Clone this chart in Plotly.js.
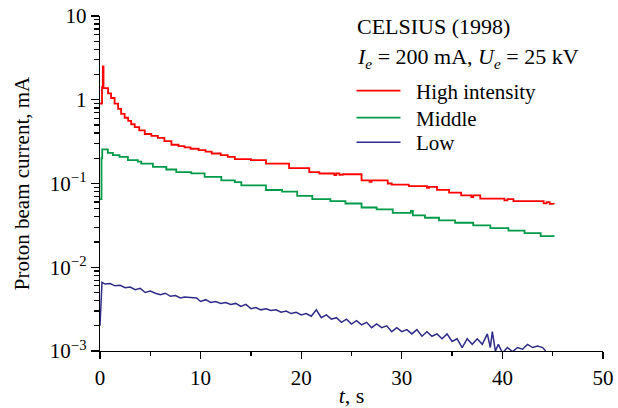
<!DOCTYPE html>
<html>
<head>
<meta charset="utf-8">
<script src="https://cdn.plot.ly/plotly-3.0.1.min.js"></script>
<style>html,body{margin:0;padding:0;background:#fff;}#chart{width:618px;height:408px;}</style>
</head>
<body>
<div id="chart"></div>
<script>
// ---- data ----
var seriesNames = ["High intensity", "Middle", "Low"];

var highT = [0, 0.2, 0.28, 0.35, 0.8, 1.1, 1.45, 1.8, 2.1, 2.45, 2.8, 3.1, 3.45, 3.9, 4.45, 5.1, 5.75, 6.4, 7.1, 7.8, 8.4, 9.0, 9.8, 10.5, 11.1, 12.0, 12.7, 13.4, 15.0, 16.5, 18.8, 20.8, 21.8, 23.3, 23.5, 23.8, 24.1, 26.0, 26.8, 27.0, 28.6, 29.0, 30.7, 32.5, 32.7, 33.5, 34.7, 35.9, 36.9, 37.1, 37.8, 40.2, 40.5, 41.1, 44.1, 44.4, 44.7, 45.1];
var highV = [0.9, 1.4, 2.5, 1.38, 1.19, 1.05, 0.9, 0.78, 0.68, 0.61, 0.56, 0.51, 0.47, 0.43, 0.39, 0.37, 0.35, 0.32, 0.29, 0.28, 0.27, 0.26, 0.25, 0.24, 0.228, 0.218, 0.208, 0.195, 0.19, 0.173, 0.153, 0.137, 0.1316, 0.126, 0.132, 0.127, 0.129, 0.109, 0.105, 0.109, 0.1, 0.097, 0.093, 0.089, 0.091, 0.084, 0.0776, 0.072, 0.069, 0.072, 0.066, 0.063, 0.065, 0.0615, 0.058, 0.06, 0.057, 0.0567];

var midT = [0, 0.15, 0.22, 0.78, 1.28, 1.94, 2.77, 3.76, 4.1, 5.26, 6.59, 7.58, 9.07, 10.4, 12.06, 13.4, 14.05, 16.5, 18.1, 19.6, 21.1, 22.9, 24.4, 26.0, 27.5, 29.1, 30.9, 31.1, 32.3, 33.7, 35.3, 37.1, 38.8, 40.6, 42.2, 43.8, 45.1];
var midV = [0.065, 0.2, 0.255, 0.232, 0.218, 0.208, 0.19, 0.182, 0.173, 0.158, 0.147, 0.137, 0.132, 0.12, 0.109, 0.104, 0.095, 0.0836, 0.0798, 0.071, 0.065, 0.0615, 0.0577, 0.0517, 0.049, 0.0446, 0.047, 0.0416, 0.039, 0.0362, 0.034, 0.0316, 0.0293, 0.0273, 0.0255, 0.0235, 0.0232];

var lowT = [0, 0.2, 0.5, 1.0, 1.5, 2.0, 2.5, 3.0, 3.5, 4.0, 4.5, 5.0, 5.5, 6.0, 6.5, 7.0, 7.5, 8.0, 8.4, 9.6, 10.0, 10.5, 11.0, 11.5, 12.0, 12.5, 13.0, 13.5, 14.0, 14.5, 15.0, 15.5, 16.0, 16.5, 17.0, 17.5, 18.0, 18.5, 19.0, 19.5, 20.0, 20.5, 21.0, 21.5, 22.0, 22.5, 23.0, 23.5, 24.0, 24.5, 25.0, 25.5, 26.0, 26.5, 27.0, 27.5, 28.0, 28.5, 29.0, 29.5, 30.0, 30.5, 31.0, 31.5, 32.0, 32.5, 33.0, 33.5, 34.0, 34.5, 35.0, 35.5, 36.0, 36.5, 37.0, 37.5, 38.0, 38.5, 38.8, 39.0, 39.3, 39.6, 40.0, 40.5, 41.0, 41.5, 42.0, 42.5, 43.0, 43.5, 44.0, 44.3];
var lowV = [0.002, 0.0066, 0.0063, 0.0064, 0.006, 0.0061, 0.0057, 0.0058, 0.0054, 0.0056, 0.005, 0.0052, 0.0049, 0.0047, 0.0049, 0.0045, 0.0046, 0.0043, 0.0044, 0.0043, 0.0039, 0.0041, 0.0038, 0.0039, 0.0037, 0.0038, 0.0036, 0.0037, 0.0034, 0.0036, 0.0032, 0.0033, 0.0031, 0.0032, 0.00305, 0.0031, 0.0029, 0.003, 0.0028, 0.0029, 0.0027, 0.0028, 0.0026, 0.0031, 0.0025, 0.0027, 0.0024, 0.0025, 0.0022, 0.0024, 0.0021, 0.0023, 0.00205, 0.0022, 0.0019, 0.0021, 0.0019, 0.002, 0.0017, 0.0019, 0.0017, 0.0018, 0.0016, 0.0018, 0.0015, 0.0017, 0.0015, 0.0016, 0.0014, 0.0016, 0.0013, 0.0014, 0.0011, 0.0014, 0.0012, 0.0014, 0.0012, 0.0016, 0.0011, 0.0017, 0.001, 0.0012, 0.00095, 0.0011, 0.00098, 0.0011, 0.00105, 0.0012, 0.0011, 0.00115, 0.0011, 0.001];

var yTickVals = [0.001, 0.01, 0.1, 1, 10];
var yTickText = ["10<sup>\u22123</sup>", "10<sup>\u22122</sup>", "10<sup>\u22121</sup>", "1", "10"];
var yMinorVals = [];
[0.001, 0.01, 0.1, 1].forEach(function (d) { for (var k = 2; k <= 9; k++) yMinorVals.push(d * k); });

var FONT = "Liberation Serif, Times New Roman, serif";
var PAD = "\u00a0\u00a0";

var traces = [
  {x: highT, y: highV, name: PAD + seriesNames[0], type: "scatter", mode: "lines", legend: "legend",
   line: {color: "#ff0000", width: 1.8, shape: "hv"}},
  {x: midT, y: midV, name: PAD + seriesNames[1], type: "scatter", mode: "lines", legend: "legend2",
   line: {color: "#009a48", width: 1.8, shape: "hv"}},
  {x: lowT, y: lowV, name: PAD + seriesNames[2], type: "scatter", mode: "lines", legend: "legend3",
   line: {color: "#2f2b88", width: 1.5}},
  {x: [], y: [], yaxis: "y2", showlegend: false, hoverinfo: "skip", type: "scatter", mode: "lines"}
];

function leg(y) {
  return {x: 0.5, y: y, xanchor: "left", yanchor: "middle", bgcolor: "rgba(0,0,0,0)", borderwidth: 0,
          font: {family: FONT, size: 21, color: "#000"}, itemwidth: 44};
}

var layout = {
  width: 618, height: 408,
  margin: {l: 100, r: 15, t: 16, b: 57},
  paper_bgcolor: "#fff", plot_bgcolor: "#fff",
  font: {family: FONT, size: 21, color: "#000"},
  showlegend: true,
  legend: leg(0.776), legend2: leg(0.6955), legend3: leg(0.622),
  xaxis: {range: [0, 50], showgrid: false, zeroline: false, showline: true, linecolor: "#000", linewidth: 1.3,
          ticks: "outside", ticklen: 7, tickwidth: 1.3, tickcolor: "#000", dtick: 10, tick0: 0,
          minor: {dtick: 5, ticks: "outside", ticklen: 4, tickwidth: 1.3, tickcolor: "#000", showgrid: false},
          tickfont: {family: FONT, size: 21},
          title: {text: "<i>t</i>, s", font: {family: FONT, size: 22}, standoff: 2}},
  yaxis: {type: "log", range: [-3, 1], showgrid: false, zeroline: false, showline: true, linecolor: "#000", linewidth: 1.3,
          ticks: "outside", ticklen: 8, tickwidth: 1.3, tickcolor: "#000",
          tickmode: "array", tickvals: yTickVals, ticktext: yTickText,
          tickfont: {family: FONT, size: 21},
          title: {text: "Proton beam current, mA", font: {family: FONT, size: 21}, standoff: 14}},
  yaxis2: {type: "log", range: [-3, 1], overlaying: "y", side: "left", showgrid: false, zeroline: false, showline: false,
           ticks: "outside", ticklen: 5, tickwidth: 1.3, tickcolor: "#000", tickmode: "array", tickvals: yMinorVals,
           showticklabels: false},
  annotations: [
    {xref: "paper", yref: "paper", x: 0.506, y: 0.97, xanchor: "left", yanchor: "middle", showarrow: false,
     text: "CELSIUS (1998)", font: {family: FONT, size: 22}},
    {xref: "paper", yref: "paper", x: 0.506, y: 0.875, xanchor: "left", yanchor: "middle", showarrow: false,
     text: "<i>I</i><sub><i>e</i></sub> = 200 mA, <i>U</i><sub><i>e</i></sub> = 25 kV", font: {family: FONT, size: 22}}
  ]
};

Plotly.newPlot("chart", traces, layout, {staticPlot: true, displayModeBar: false});
</script>
</body>
</html>
